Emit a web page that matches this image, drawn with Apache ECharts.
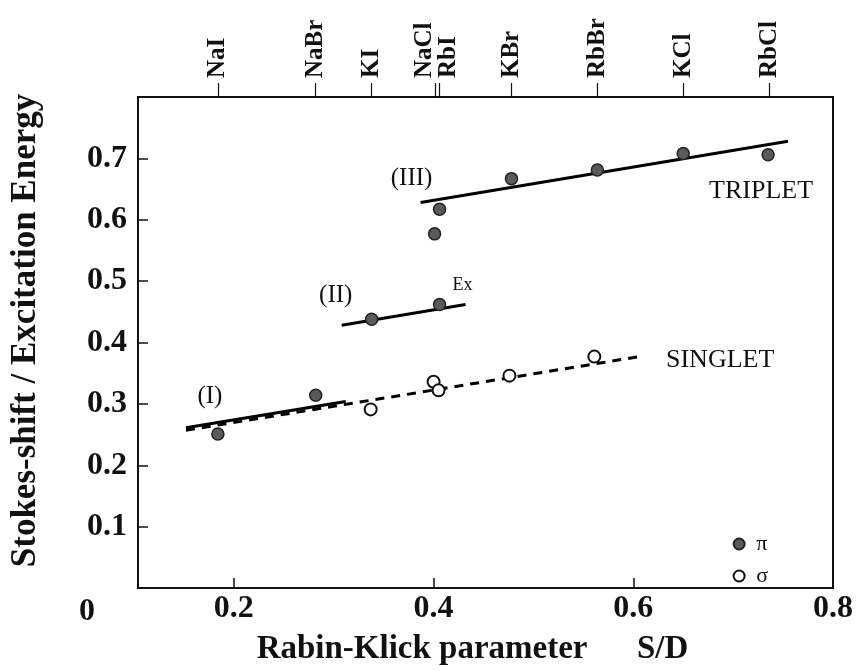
<!DOCTYPE html>
<html>
<head>
<meta charset="utf-8">
<script src="https://cdn.jsdelivr.net/npm/echarts@6/dist/echarts.min.js"></script>
<style>
  html, body { margin: 0; padding: 0; background: #fff; }
  #chart { width: 856px; height: 671px; }
</style>
</head>
<body>
<div id="chart"></div>
<script>
// Rabin-Klick parameter S/D of each crystal (top axis)
var crystals = ['NaI', 'NaBr', 'KI', 'NaCl', 'RbI', 'KBr', 'RbBr', 'KCl', 'RbCl']
var sdValues = [0.184, 0.282, 0.338, 0.402, 0.406, 0.478, 0.564, 0.650, 0.736]

// pi emission (filled circles)
var piPoints = [
  [0.184, 0.251], [0.282, 0.314], [0.338, 0.438], [0.406, 0.462],
  [0.401, 0.577], [0.406, 0.617], [0.478, 0.667], [0.564, 0.681],
  [0.650, 0.708], [0.735, 0.706]
]
// sigma emission (open circles)
var sigmaPoints = [
  [0.337, 0.291], [0.400, 0.336], [0.405, 0.322], [0.476, 0.346], [0.561, 0.377]
]

// fitted lines, end points
var lineI = [[0.152, 0.261], [0.312, 0.304]]
var lineII = [[0.308, 0.428], [0.432, 0.462]]
var lineIII = [[0.387, 0.628], [0.755, 0.728]]
var singletLine = [[0.152, 0.257], [0.610, 0.378]]

// text notes placed in data coordinates
var notes = [
  { text: '(I)', at: [0.176, 0.312], size: 25 },
  { text: '(II)', at: [0.302, 0.477], size: 25 },
  { text: 'Ex', at: [0.429, 0.494], size: 18 },
  { text: '(III)', at: [0.378, 0.667], size: 25 },
  { text: 'TRIPLET', at: [0.728, 0.647], size: 26 },
  { text: 'SINGLET', at: [0.687, 0.372], size: 26 }
]

var yTicks = [0.1, 0.2, 0.3, 0.4, 0.5, 0.6, 0.7]
var xTicks = [0.2, 0.4, 0.6, 0.8]

var serif = 'Liberation Serif'

function fitLine (pts, dashed) {
  return {
    type: 'line',
    data: pts,
    symbol: 'none',
    silent: true,
    z: 2,
    lineStyle: { color: '#000', width: 3, type: dashed ? [9, 7] : 'solid' }
  }
}

var myChart = echarts.init(document.getElementById('chart'))
myChart.setOption({
  backgroundColor: '#fff',
  animation: false,
  grid: {
    left: 132,
    right: 21,
    top: 97,
    bottom: 77,
    show: true,
    borderColor: '#111',
    borderWidth: 2
  },
  legend: {
    orient: 'vertical',
    right: 83,
    top: 528,
    itemWidth: 24,
    itemHeight: 11,
    itemGap: 10,
    selectedMode: false,
    data: ['π', 'σ'],
    textStyle: { fontFamily: serif, fontSize: 22, color: '#111' }
  },
  xAxis: [
    {
      type: 'value',
      min: 0.104,
      max: 0.8,
      position: 'bottom',
      name: 'Rabin-Klick parameter      S/D',
      nameLocation: 'middle',
      nameGap: 45,
      nameTextStyle: {
        fontFamily: serif, fontWeight: 'bold', fontSize: 33, color: '#111',
        padding: [0, 26, 0, 0]
      },
      splitLine: { show: false },
      axisLine: { onZero: false, lineStyle: { color: '#111', width: 2 } },
      axisTick: { inside: true, length: 10, lineStyle: { color: '#111', width: 1.5 }, customValues: xTicks },
      axisLabel: {
        customValues: xTicks,
        margin: 5,
        fontFamily: serif,
        fontWeight: 'bold',
        fontSize: 32,
        color: '#111',
        formatter: function (v) { return v.toFixed(1) }
      }
    },
    {
      type: 'value',
      min: 0.104,
      max: 0.8,
      position: 'top',
      splitLine: { show: false },
      axisLine: { onZero: false, lineStyle: { color: '#111', width: 2 } },
      axisTick: { length: 14, lineStyle: { color: '#111', width: 1.2 }, customValues: sdValues },
      axisLabel: {
        customValues: sdValues,
        rotate: -90,
        margin: 19,
        fontFamily: serif,
        fontWeight: 'bold',
        fontSize: 25,
        color: '#111',
        formatter: function (v) {
          var name = crystals[sdValues.indexOf(v)]
          if (name === 'NaCl') return '{l|' + name + '}'
          if (name === 'RbI') return '{r|' + name + '}'
          return name
        },
        rich: {
          l: { fontFamily: serif, fontWeight: 'bold', fontSize: 25, color: '#111', padding: [0, 0, 22, 0] },
          r: { fontFamily: serif, fontWeight: 'bold', fontSize: 25, color: '#111', padding: [18, 0, 0, 0] }
        }
      }
    }
  ],
  yAxis: {
    type: 'value',
    min: 0,
    max: 0.8,
    interval: 0.1,
    name: 'Stokes-shift / Excitation Energy',
    nameLocation: 'middle',
    nameGap: 95,
    nameTextStyle: {
      fontFamily: serif, fontWeight: 'bold', fontSize: 35, color: '#111',
      padding: [0, 0, 0, 24]
    },
    splitLine: { show: false },
    axisLine: { lineStyle: { color: '#111', width: 2 } },
    axisTick: { inside: true, length: 10, lineStyle: { color: '#111', width: 1.5 }, customValues: yTicks },
    axisLabel: {
      customValues: yTicks,
      margin: 11,
      fontFamily: serif,
      fontWeight: 'bold',
      fontSize: 32,
      color: '#111',
      formatter: function (v) { return v.toFixed(1) }
    }
  },
  graphic: [
    {
      type: 'text',
      left: 79,
      top: 596,
      style: { text: '0', font: 'bold 32px "Liberation Serif"', fill: '#111' }
    }
  ],
  series: [
    fitLine(singletLine, true),
    fitLine(lineI, false),
    fitLine(lineII, false),
    fitLine(lineIII, false),
    {
      name: 'π',
      type: 'scatter',
      data: piPoints,
      symbol: 'circle',
      symbolSize: 12,
      z: 3,
      itemStyle: { color: '#5a5a5a', borderColor: '#222', borderWidth: 1.5, opacity: 1 }
    },
    {
      name: 'σ',
      type: 'scatter',
      data: sigmaPoints,
      symbol: 'circle',
      symbolSize: 12,
      z: 3,
      itemStyle: { color: '#fff', borderColor: '#111', borderWidth: 2, opacity: 1 }
    },
    {
      type: 'scatter',
      silent: true,
      symbolSize: 0,
      itemStyle: { opacity: 1 },
      data: notes.map(function (n) {
        return {
          value: n.at,
          label: {
            show: true,
            position: 'inside',
            formatter: n.text,
            fontFamily: serif,
            fontSize: n.size,
            color: '#111'
          }
        }
      })
    }
  ]
})
</script>
</body>
</html>
